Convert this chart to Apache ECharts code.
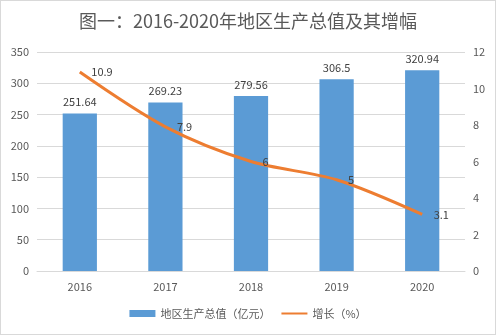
<!DOCTYPE html>
<html>
<head>
<meta charset="utf-8">
<script src="https://cdn.jsdelivr.net/npm/echarts@6/dist/echarts.min.js"></script>
<style>
  html, body { margin: 0; padding: 0; background: #fff; }
  #chart { width: 494px; height: 333px; border: 1px solid #d9d9d9; }
</style>
</head>
<body>
<div id="chart"></div>
<script>
// Regional GDP 2016-2020 and its annual growth rate
const years = ['2016', '2017', '2018', '2019', '2020'];
const gdp = [251.64, 269.23, 279.56, 306.5, 320.94];
const growth = [10.9, 7.9, 6, 5, 3.1];
const gdpName = '地区生产总值（亿元）';
const growthName = '增长（%）';

const font = '"Noto Sans CJK SC", "Noto Sans", sans-serif';
const chart = echarts.init(document.getElementById('chart'));
chart.setOption({
  animation: false,
  textStyle: { fontFamily: font },
  title: {
    text: '图一：2016-2020年地区生产总值及其增幅',
    left: 'center',
    top: 6,
    textStyle: { fontSize: 18, fontWeight: 'normal', color: '#595959', fontFamily: font }
  },
  legend: {
    bottom: 10,
    itemWidth: 26,
    itemHeight: 7,
    itemGap: 10,
    textStyle: { fontSize: 11, color: '#595959' },
    data: [
      { name: gdpName, icon: 'rect' },
      { name: growthName }
    ]
  },
  grid: { left: 36, right: 30, top: 51, bottom: 63 },
  xAxis: {
    type: 'category',
    data: years,
    axisTick: { show: false },
    axisLine: { lineStyle: { color: '#d9d9d9' } },
    axisLabel: { color: '#595959', fontSize: 11, margin: 10 }
  },
  yAxis: [
    {
      type: 'value', min: 0, max: 350, interval: 50,
      axisLabel: { color: '#595959', fontSize: 11, margin: 8 },
      splitLine: { lineStyle: { color: '#d9d9d9' } }
    },
    {
      type: 'value', min: 0, max: 12, interval: 2,
      axisLabel: { color: '#595959', fontSize: 11, margin: 8 },
      splitLine: { show: false }
    }
  ],
  series: [
    {
      name: gdpName,
      type: 'bar',
      data: gdp,
      barWidth: '40%',
      itemStyle: { color: '#5B9BD5' },
      label: { show: true, position: 'top', color: '#404040', fontSize: 11, distance: 6 }
    },
    {
      name: growthName,
      type: 'line',
      yAxisIndex: 1,
      data: growth,
      smooth: 0.3,
      showSymbol: true,
      symbol: 'circle',
      symbolSize: 1,
      lineStyle: { color: '#ED7D31', width: 3 },
      // markers stay invisible; they only anchor the value labels
      itemStyle: { color: 'rgba(0,0,0,0)' },
      label: { show: true, position: 'right', color: '#404040', fontSize: 11, distance: 11 }
    }
  ]
});
</script>
</body>
</html>
